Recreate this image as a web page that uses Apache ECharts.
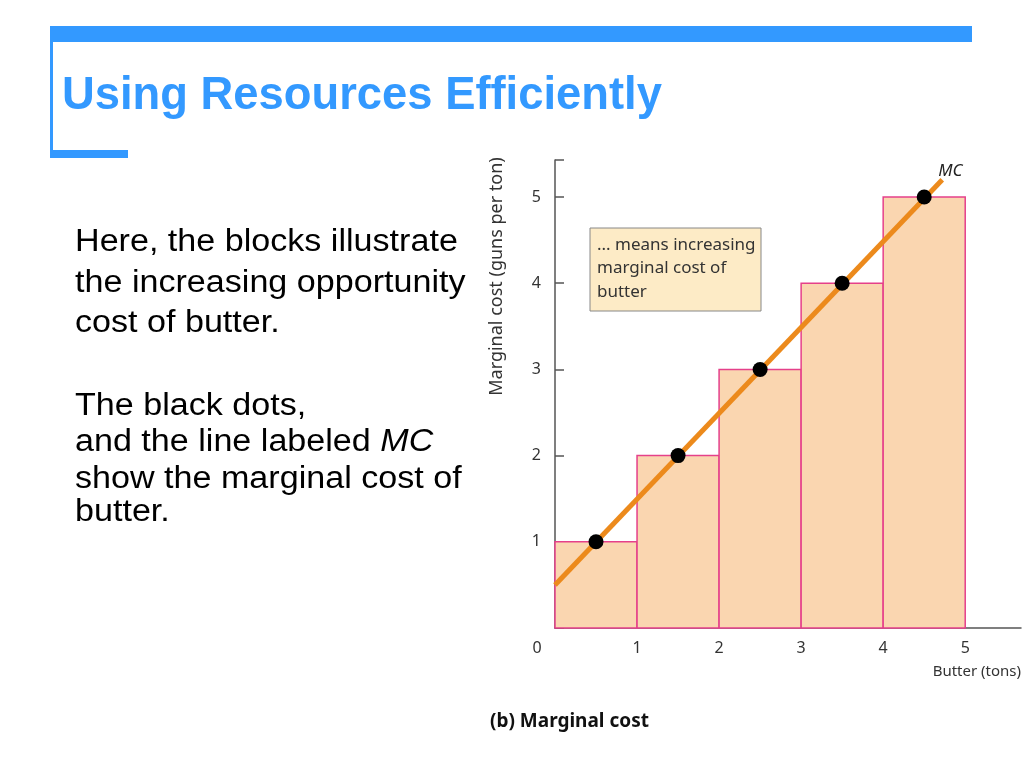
<!DOCTYPE html>
<html>
<head>
<meta charset="utf-8">
<script src="https://cdn.jsdelivr.net/npm/echarts@6/dist/echarts.min.js"></script>
<style>html,body{margin:0;padding:0;background:#fff}#main{width:1024px;height:768px}</style>
</head>
<body>
<div id="main"></div>
<script>
// Data
var blockStarts = [0, 1, 2, 3, 4];
var blockEnds = [1, 2, 3, 4, 5];
var blockHeights = [1, 2, 3, 4, 5];
var dotX = [0.5, 1.5, 2.5, 3.5, 4.5];
var dotY = [1, 2, 3, 4, 5];
var mcLineX = [0, 4.72];
var mcLineY = [0.5, 5.2];
var xTicks = [0, 1, 2, 3, 4, 5];
var yTicks = [1, 2, 3, 4, 5];

var blockData = blockStarts.map(function (s, i) { return [s, blockEnds[i], blockHeights[i]]; });
var dotData = dotX.map(function (x, i) { return [x, dotY[i]]; });
var lineData = mcLineX.map(function (x, i) { return [x, mcLineY[i]]; });

var chart = echarts.init(document.getElementById('main'));
var blue = '#3399ff';
var labelFont = '"Noto Sans", sans-serif';
var bodyFont = '31px "Liberation Sans", Arial, sans-serif';

function bodyLine(text, baseline, rich) {
  var st = { text: text, fill: '#000', font: bodyFont, x: 0, y: 0, verticalAlign: 'top' };
  if (rich) st.rich = rich;
  return { type: 'text', x: 75, y: baseline - 24.5, scaleX: 1.1, style: st };
}

chart.setOption({
  backgroundColor: '#fff',
  animation: false,
  grid: { left: 555, right: 0, top: 160, bottom: 140, containLabel: false },
  xAxis: {
    type: 'value', min: 0, max: 5.68, interval: 1,
    name: 'Butter (tons)', nameLocation: 'end',
    nameGap: 0,
    nameTextStyle: { color: '#333', fontFamily: labelFont, fontSize: 15, align: 'right', verticalAlign: 'top', padding: [36, 0, 0, 0] },
    axisLine: { lineStyle: { color: '#555', width: 1.5 } },
    axisTick: { show: false },
    splitLine: { show: false },
    axisLabel: {
      color: '#333', fontFamily: labelFont, fontSize: 16, margin: 12,
      formatter: function (v) {
        if (v === 0) return '{z|0}';
        return xTicks.indexOf(v) >= 0 ? String(v) : '';
      },
      rich: { z: { color: '#333', fontFamily: labelFont, fontSize: 16, padding: [0, 36, 0, 0] } }
    }
  },
  yAxis: {
    type: 'value', min: 0, max: 5.43, interval: 1,
    name: 'Marginal cost (guns per ton)', nameLocation: 'middle', nameRotate: 90, nameGap: 49,
    nameTextStyle: { color: '#333', fontFamily: labelFont, fontSize: 18, padding: [0, 0, 0, 235] },
    axisLine: { lineStyle: { color: '#555', width: 1.5 } },
    axisTick: { show: true, inside: true, length: 9, lineStyle: { color: '#555', width: 1.5 } },
    splitLine: { show: false },
    axisLabel: {
      color: '#333', fontFamily: labelFont, fontSize: 16, margin: 14,
      formatter: function (v) { return yTicks.indexOf(v) >= 0 ? String(v) : ''; }
    }
  },
  series: [
    {
      type: 'custom',
      z: 2,
      data: blockData,
      encode: { x: [0, 1], y: 2 },
      renderItem: function (params, api) {
        var p0 = api.coord([api.value(0), 0]);
        var p1 = api.coord([api.value(1), api.value(2)]);
        return {
          type: 'rect',
          shape: { x: p0[0], y: p1[1], width: p1[0] - p0[0], height: p0[1] - p1[1] },
          style: { fill: '#fad6b0', stroke: '#e5408a', lineWidth: 1.5 }
        };
      }
    },
    {
      type: 'line',
      z: 3,
      data: lineData,
      symbol: 'none',
      lineStyle: { color: '#ec8a1c', width: 5 },
      endLabel: { show: true, formatter: 'MC', fontStyle: 'italic', fontFamily: labelFont, fontSize: 17, color: '#222', offset: [-12, -9] }
    },
    {
      type: 'scatter',
      z: 4,
      data: dotData,
      symbol: 'circle',
      symbolSize: 15,
      itemStyle: { color: '#000', opacity: 1 }
    }
  ],
  graphic: [
    { type: 'rect', shape: { x: 50, y: 26, width: 922, height: 16 }, style: { fill: blue } },
    { type: 'rect', shape: { x: 50, y: 26, width: 3, height: 132 }, style: { fill: blue } },
    { type: 'rect', shape: { x: 50, y: 150, width: 78, height: 8 }, style: { fill: blue } },
    { type: 'text', x: 62, y: 73, scaleX: 0.965, style: { x: 0, y: 0, verticalAlign: 'top', text: 'Using Resources Efficiently', fill: blue, font: 'bold 47px "Liberation Sans", Arial, sans-serif' } },
    bodyLine('Here, the blocks illustrate', 251),
    bodyLine('the increasing opportunity', 292),
    bodyLine('cost of butter.', 332),
    bodyLine('The black dots,', 415),
    bodyLine('and the line labeled {i|MC}', 451.5, { i: { fontStyle: 'italic', fontSize: 31, fontFamily: '"Liberation Sans", Arial, sans-serif', fill: '#000' } }),
    bodyLine('show the marginal cost of', 488),
    bodyLine('butter.', 521.5),
    { type: 'rect', shape: { x: 590, y: 228, width: 171, height: 83 }, style: { fill: '#fdebc6', stroke: '#888', lineWidth: 1 }, z: 10 },
    { type: 'text', left: 597, top: 233, z: 11, style: { text: '... means increasing\nmarginal cost of\nbutter', fill: '#333', font: '17px "Noto Sans", sans-serif', lineHeight: 23.5 } },
    { type: 'text', left: 490, top: 712, style: { text: '(b) Marginal cost', fill: '#111', font: 'bold 19px "Noto Sans", sans-serif' } }
  ]
});
</script>
</body>
</html>
